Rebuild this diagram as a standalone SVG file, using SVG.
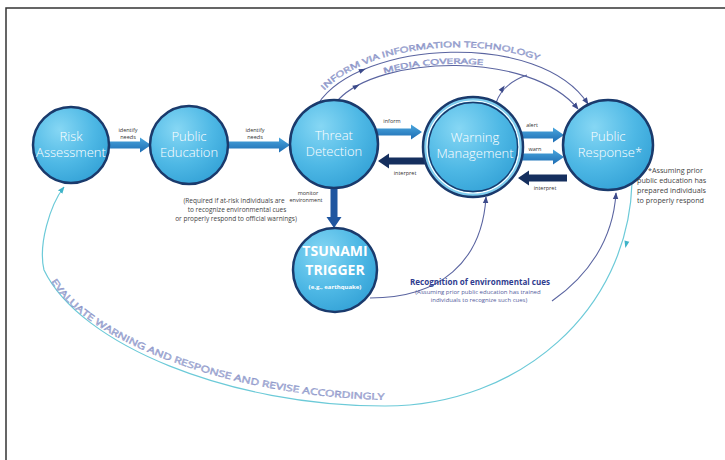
<svg xmlns="http://www.w3.org/2000/svg" width="725" height="460" viewBox="0 0 725 460">
<defs>
<radialGradient id="cg" cx="0.35" cy="0.3" r="0.75">
<stop offset="0" stop-color="#86d7f4"/>
<stop offset="0.6" stop-color="#4eb8e5"/>
<stop offset="1" stop-color="#35a3d7"/>
</radialGradient>
<linearGradient id="ag" x1="0" y1="0" x2="0" y2="1">
<stop offset="0" stop-color="#4aa6dd"/>
<stop offset="1" stop-color="#1d6cb3"/>
</linearGradient>
<marker id="mNavy" viewBox="0 0 10 10" refX="9" refY="5" markerWidth="7" markerHeight="7" markerUnits="userSpaceOnUse" orient="auto">
<path d="M0,1 L10,5 L0,9 Z" fill="#3c4a8a"/>
</marker>
<marker id="mCyan" viewBox="0 0 10 10" refX="9" refY="5" markerWidth="7" markerHeight="7" markerUnits="userSpaceOnUse" orient="auto">
<path d="M0,1 L10,5 L0,9 Z" fill="#3fb3c8"/>
</marker>
<path id="tpOuter" d="M 317,100 C 359,35 540,25 591,98"/>
<path id="tpInner" d="M 337,99 C 379,54 530,49 581,103"/>
<path id="tpBottom" d="M 50,280 C 86,342 232,398 392,400"/>
</defs>
<style>
.node{fill:url(#cg);stroke:#1a3a6c;stroke-width:2.5}
.nl{font-family:"Open Sans","Noto Sans",sans-serif;font-size:13px;font-weight:300;fill:#ffffff;text-anchor:middle}
.big{font-family:"Open Sans","Noto Sans",sans-serif;font-size:14px;font-weight:700;fill:#ffffff;text-anchor:middle}
.la{fill:url(#ag)}
.da{fill:#152f5e}
.sm{font-family:"Open Sans","Noto Sans",sans-serif;font-size:5.5px;fill:#333333;text-anchor:middle}
.note{font-family:"Open Sans","Noto Sans",sans-serif;font-size:6.5px;fill:#444444}
.fn{font-family:"Open Sans","Noto Sans",sans-serif;font-size:7.2px;fill:#444444}
.arc{fill:none;stroke:#5a64a0;stroke-width:1.1}
.arctext{font-family:"Open Sans","Noto Sans",sans-serif;fill:#e2e6f5;stroke:#8791c6;stroke-width:0.45}
.cyan{fill:none;stroke:#6ccad8;stroke-width:1.2}
</style>
<rect width="725" height="460" fill="#ffffff"/>
<g id="frame" fill="none" stroke="#333333" stroke-width="1.5">
<path d="M 6,460 L 6,8 L 725,8"/>
</g>

<g id="connectors">
<!-- top arcs -->
<path class="arc" d="M 318,104 C 360,40 540,30 588,104" marker-end="url(#mNavy)"/>
<path class="arc" d="M 338,100 C 380,55 530,50 578,109" marker-end="url(#mNavy)"/>
<polygon points="-4,-2.5 3,0 -4,2.5" fill="#3c4a8a" transform="translate(363,70) rotate(-23)"/>
<polygon points="-4,-2.5 3,0 -4,2.5" fill="#3c4a8a" transform="translate(357,86) rotate(-28)"/>
<path class="arc" d="M 496,103 Q 502,84 527,75"/>
<polygon points="-4,-2.5 3,0 -4,2.5" fill="#3c4a8a" transform="translate(503,88) rotate(-55)"/>
<text class="arctext" font-size="8"><textPath href="#tpOuter" startOffset="12" textLength="226" lengthAdjust="spacingAndGlyphs">INFORM VIA INFORMATION TECHNOLOGY</textPath></text>
<text class="arctext" font-size="7.5"><textPath href="#tpInner" startOffset="54" textLength="100" lengthAdjust="spacingAndGlyphs">MEDIA COVERAGE</textPath></text>

<!-- recognition curves -->
<path class="arc" d="M 370,298 C 440,298 482,262 486,197" marker-end="url(#mNavy)"/>
<path class="arc" d="M 552,301 C 588,276 613,240 616,193" marker-end="url(#mNavy)"/>

<!-- big evaluate arc -->
<path class="cyan" d="M 632,183 C 628,310 520,406 385,406 C 230,406 80,345 44,270 C 38,245 50,205 64,187" marker-end="url(#mCyan)"/>
<polygon points="-4,-2.5 3,0 -4,2.5" fill="#3fb3c8" transform="translate(626,245) rotate(103)"/>
<text class="arctext" font-size="9"><textPath href="#tpBottom" startOffset="2" textLength="364" lengthAdjust="spacingAndGlyphs">EVALUATE WARNING AND RESPONSE AND REVISE ACCORDINGLY</textPath></text>

<!-- block arrows -->
<polygon class="la" points="107,141.5 140,141.5 140,137.5 151,145 140,152.5 140,148.5 107,148.5"/>
<polygon class="la" points="227,141.5 279,141.5 279,137.5 290,145 279,152.5 279,148.5 227,148.5"/>
<polygon class="la" points="376,128.5 411,128.5 411,124.5 422,132 411,139.5 411,135.5 376,135.5"/>
<polygon class="da" points="428,157.5 389,157.5 389,153.5 378,161 389,168.5 389,164.5 428,164.5"/>
<polygon class="la" points="520,131.5 553,131.5 553,127.5 564,135 553,142.5 553,138.5 520,138.5"/>
<polygon class="la" points="520,153.5 553,153.5 553,149.5 564,157 553,164.5 553,160.5 520,160.5"/>
<polygon class="da" points="567,174.5 529,174.5 529,170.5 518,178 529,185.5 529,181.5 567,181.5"/>
<polygon fill="#1f56a0" points="330.5,188 337.5,188 337.5,217 341.5,217 334,228 326.5,217 330.5,217"/>

<!-- arrow labels -->
<text class="sm" x="128" y="132">identify</text>
<text class="sm" x="128" y="138.5">needs</text>
<text class="sm" x="255" y="132">identify</text>
<text class="sm" x="255" y="138.5">needs</text>
<text class="sm" x="392" y="123">inform</text>
<text class="sm" x="405" y="175">interpret</text>
<text class="sm" x="532" y="127">alert</text>
<text class="sm" x="535" y="151">warn</text>
<text class="sm" x="545" y="190">interpret</text>
<text class="sm" x="308" y="195">monitor</text>
<text class="sm" x="306" y="201.5">environment</text>
</g>

<g id="risk">
<circle class="node" cx="71" cy="145" r="38"/>
<text class="nl" x="71" y="141">Risk</text>
<text class="nl" x="71" y="157">Assessment</text>
</g>
<g id="education">
<circle class="node" cx="189" cy="145" r="39"/>
<text class="nl" x="189" y="141">Public</text>
<text class="nl" x="189" y="157">Education</text>
</g>
<g id="threat">
<circle class="node" cx="334" cy="144" r="44"/>
<text class="nl" x="334" y="140">Threat</text>
<text class="nl" x="334" y="156">Detection</text>
</g>
<g id="warning">
<circle cx="473" cy="147" r="50" fill="#7fcdee" stroke="#1a3a6c" stroke-width="2.5"/>
<circle cx="473" cy="147" r="46" fill="url(#cg)" stroke="#ffffff" stroke-width="1.2"/>
<circle cx="473" cy="147" r="44.5" fill="none" stroke="#1a3a6c" stroke-width="1.3"/>
<text class="nl" x="475" y="142">Warning</text>
<text class="nl" x="475" y="158">Management</text>
</g>
<g id="response">
<circle class="node" cx="608" cy="145" r="45"/>
<text class="nl" x="608" y="141">Public</text>
<text class="nl" x="610" y="157">Response*</text>
</g>
<g id="tsunami">
<circle class="node" cx="335" cy="270" r="42"/>
<text class="big" x="335" y="256">TSUNAMI</text>
<text class="big" x="335" y="274.5">TRIGGER</text>
<text x="335" y="289" font-family="Open Sans, Noto Sans, sans-serif" font-size="6" font-weight="700" fill="#ffffff" text-anchor="middle">(e.g., earthquake)</text>
</g>

<g id="notes">
<text class="note" x="234" y="203" text-anchor="middle">(Required if at-risk individuals are</text>
<text class="note" x="237" y="212" text-anchor="middle">to recognize environmental cues</text>
<text class="note" x="236" y="221" text-anchor="middle">or properly respond to official warnings)</text>
<text x="410" y="285" font-family="Open Sans, Noto Sans, sans-serif" font-size="8.5" font-weight="700" fill="#303d8f" textLength="140" lengthAdjust="spacingAndGlyphs">Recognition of environmental cues</text>
<text x="478" y="294" font-family="Open Sans, Noto Sans, sans-serif" font-size="6" fill="#535c9c" text-anchor="middle">(Assuming prior public education has trained</text>
<text x="479" y="302" font-family="Open Sans, Noto Sans, sans-serif" font-size="6" fill="#535c9c" text-anchor="middle">individuals to recognize such cues)</text>
<text class="fn" x="648" y="173">*Assuming prior</text>
<text class="fn" x="637" y="183">public education has</text>
<text class="fn" x="637" y="193">prepared individuals</text>
<text class="fn" x="637" y="203">to properly respond</text>
</g>
</svg>
